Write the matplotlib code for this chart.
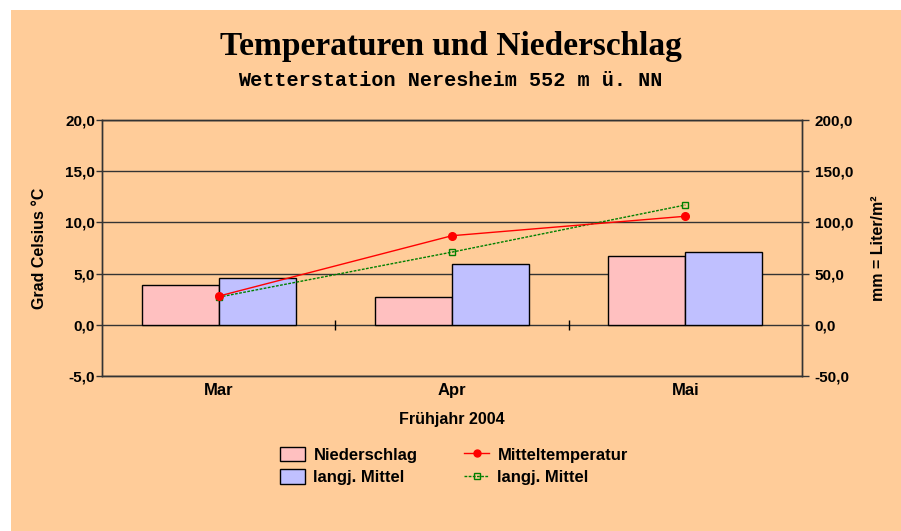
import matplotlib
matplotlib.use("Agg")
import matplotlib.pyplot as plt
from matplotlib.patches import Rectangle, Patch
from matplotlib.lines import Line2D
import numpy as np

# ---- data ----
months = ["Mar", "Apr", "Mai"]
niederschlag_mm = [39, 27.5, 67]
langj_niederschlag_mm = [46, 59, 71]
mitteltemperatur = [2.8, 8.7, 10.6]
langj_temperatur = [2.7, 7.1, 11.7]
left_ticks = [-5, 0, 5, 10, 15, 20]
left_labels = ["-5,0", "0,0", "5,0", "10,0", "15,0", "20,0"]
right_ticks = [-50, 0, 50, 100, 150, 200]
right_labels = ["-50,0", "0,0", "50,0", "100,0", "150,0", "200,0"]

BG = "#FFCC99"
PINK = "#FFC0C0"
BLUE = "#C0C0FF"
GRID = "#333333"

plt.rcParams["font.family"] = ["Liberation Sans", "DejaVu Sans"]
plt.rcParams["font.weight"] = "bold"

fig = plt.figure(figsize=(9.01, 5.31), dpi=100)
fig.patch.set_facecolor("white")
fig.patches.append(Rectangle((11 / 901, 0), 1, (531 - 10) / 531, transform=fig.transFigure,
                             facecolor=BG, edgecolor="none", zorder=-10))

pos = [102 / 901, (531 - 376) / 531, 700 / 901, 256 / 531]
ax = fig.add_axes(pos)
ax2 = ax.twinx()
ax.set_zorder(2)
ax2.set_zorder(1)
ax.patch.set_visible(False)
ax2.patch.set_visible(False)

x = np.arange(len(months))
w = 0.33
ax2.bar(x - w / 2, niederschlag_mm, w, color=PINK, edgecolor="black", linewidth=1.0, zorder=3)
ax2.bar(x + w / 2, langj_niederschlag_mm, w, color=BLUE, edgecolor="black", linewidth=1.0, zorder=3)
ax2.set_ylim(-50, 200)
ax2.set_yticks(right_ticks)
ax2.set_yticklabels(right_labels, fontsize=11, fontweight="bold")
ax2.set_axisbelow(True)
ax2.yaxis.grid(True, color=GRID, linewidth=1.0)
ax2.tick_params(axis="y", direction="out", length=5, width=1, color=GRID, pad=4)
ax2.set_ylabel("mm = Liter/m²", fontsize=11.5, fontweight="bold", labelpad=13)

ax.plot(x, langj_temperatur, color="#008000", linestyle=(0, (2, 1)), linewidth=1.0,
        marker="s", markersize=5, markerfacecolor="none", markeredgecolor="#008000", zorder=4)
ax.plot(x, mitteltemperatur, color="red", linewidth=1.0, marker="o", markersize=5.5,
        markerfacecolor="red", markeredgecolor="red", zorder=5)
ax.set_ylim(-5, 20)
ax.set_yticks(left_ticks)
ax.set_yticklabels(left_labels, fontsize=11, fontweight="bold")
ax.tick_params(axis="y", direction="out", length=4, width=1, color=GRID, pad=1)
ax.set_ylabel("Grad Celsius °C", fontsize=11.5, fontweight="bold", labelpad=13)
ax.set_xlim(-0.5, 2.5)
ax.set_xticks(x)
ax.set_xticklabels(months, fontsize=12, fontweight="bold")
ax.tick_params(axis="x", length=0, pad=5)
ax.set_xlabel("Frühjahr 2004", fontsize=11.5, fontweight="bold", labelpad=10)

for a in (ax, ax2):
    for s in a.spines.values():
        s.set_color(GRID)
        s.set_linewidth(1.0)

sec = ax.secondary_xaxis(0.2)
sec.set_xticks([0.5, 1.5])
sec.set_xticklabels(["", ""])
sec.tick_params(axis="x", direction="inout", length=7, width=1, color="black")
sec.spines["bottom"].set_visible(False)

fig.text(0.5, 1 - 46 / 531, "Temperaturen und Niederschlag", ha="center", va="center",
         fontsize=24, fontweight="bold", family=["Liberation Serif", "DejaVu Serif"])
fig.text(0.5, 1 - 80 / 531, "Wetterstation Neresheim 552 m ü. NN", ha="center", va="center",
         fontsize=14.5, fontweight="bold", family=["Liberation Mono", "DejaVu Sans Mono"])

handles = [
    Patch(facecolor=PINK, edgecolor="black", linewidth=1.0),
    Patch(facecolor=BLUE, edgecolor="black", linewidth=1.0),
    Line2D([], [], color="red", marker="o", markersize=5, linewidth=1.0),
    Line2D([], [], color="#008000", linestyle=(0, (2, 1)), marker="s", markersize=5,
           markerfacecolor="none", linewidth=1.0),
]
labels = ["Niederschlag", "langj. Mittel", "Mitteltemperatur", "langj. Mittel"]
leg = fig.legend(handles, labels, ncol=2, loc="center", bbox_to_anchor=(454 / 901, 1 - 466 / 531),
                 frameon=False, prop={"size": 12, "weight": "bold"}, handlelength=1.5,
                 handleheight=0.95, columnspacing=2.8, labelspacing=0.38, handletextpad=0.5)

fig.savefig("out.png", dpi=100, facecolor="white")
